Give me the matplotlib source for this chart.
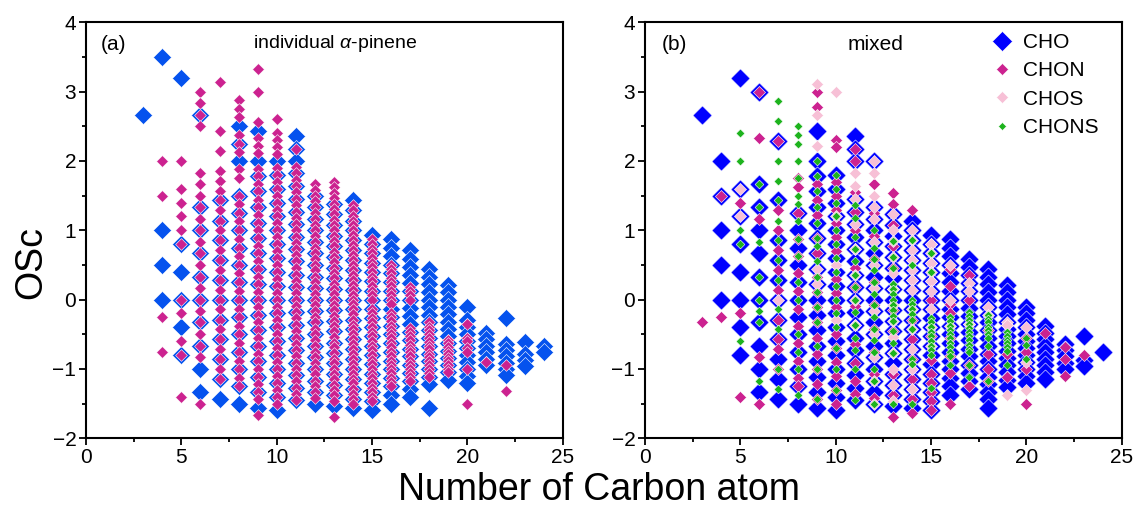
import matplotlib
matplotlib.use('Agg')
import matplotlib.pyplot as plt
from matplotlib.lines import Line2D
from matplotlib.ticker import MultipleLocator

plt.rcParams['font.family'] = ['Liberation Sans', 'DejaVu Sans']
plt.rcParams['mathtext.fontset'] = 'custom'
plt.rcParams['mathtext.it'] = 'Liberation Sans:italic'
plt.rcParams['mathtext.rm'] = 'Liberation Sans'

# carbon numbers, one column of OSc values per carbon number
carbon = list(range(3, 25))

# (a) individual alpha-pinene
cho_a = [
    [2.67],
    [3.5, 1.0, 0.5, 0.0],
    [3.2, 0.8, 0.4, 0.0, -0.4, -0.8],
    [2.67, 1.33, 1.0, 0.67, 0.33, 0.0, -0.33, -0.67, -1.0, -1.33],
    [1.43, 1.14, 0.86, 0.57, 0.29, 0.0, -0.29, -0.57, -0.86, -1.14, -1.43],
    [2.5, 2.25, 2.0, 1.5, 1.25, 1.0, 0.75, 0.5, 0.25, 0.0, -0.25, -0.5, -0.75, -1.0, -1.25, -1.5],
    [2.44, 2.0, 1.78, 1.56, 1.33, 1.11, 0.89, 0.67, 0.44, 0.22, 0.0, -0.22, -0.44, -0.67, -0.89, -1.11, -1.33, -1.56],
    [2.0, 1.8, 1.6, 1.4, 1.2, 1.0, 0.8, 0.6, 0.4, 0.2, 0.0, -0.2, -0.4, -0.6, -0.8, -1.0, -1.2, -1.4, -1.6],
    [2.36, 2.18, 2.0, 1.82, 1.64, 1.45, 1.27, 1.09, 0.91, 0.73, 0.55, 0.36, 0.18, 0.0, -0.18, -0.36, -0.55, -0.73, -0.91, -1.09, -1.27, -1.45],
    [1.5, 1.33, 1.17, 1.0, 0.83, 0.67, 0.5, 0.33, 0.17, 0.0, -0.17, -0.33, -0.5, -0.67, -0.83, -1.0, -1.17, -1.33, -1.5],
    [1.38, 1.23, 1.08, 0.92, 0.77, 0.62, 0.46, 0.31, 0.15, 0.0, -0.15, -0.31, -0.46, -0.62, -0.77, -0.92, -1.08, -1.23, -1.38, -1.54],
    [1.43, 1.29, 1.14, 1.0, 0.86, 0.71, 0.57, 0.43, 0.29, 0.14, 0.0, -0.14, -0.29, -0.43, -0.57, -0.71, -0.86, -1.0, -1.14, -1.29, -1.43, -1.57],
    [0.93, 0.8, 0.67, 0.53, 0.4, 0.27, 0.13, 0.0, -0.13, -0.27, -0.4, -0.53, -0.67, -0.8, -0.93, -1.07, -1.2, -1.33, -1.47, -1.6],
    [0.88, 0.75, 0.63, 0.5, 0.38, 0.25, 0.13, 0.0, -0.13, -0.25, -0.38, -0.5, -0.63, -0.75, -0.88, -1.0, -1.13, -1.25, -1.38, -1.5],
    [0.71, 0.59, 0.47, 0.35, 0.24, 0.12, 0.0, -0.12, -0.24, -0.35, -0.47, -0.59, -0.71, -0.82, -0.94, -1.06, -1.18, -1.29, -1.41],
    [0.44, 0.33, 0.22, 0.11, 0.0, -0.11, -0.22, -0.33, -0.44, -0.56, -0.67, -0.78, -0.89, -1.0, -1.11, -1.22, -1.56],
    [0.21, 0.11, 0.0, -0.11, -0.21, -0.32, -0.42, -0.53, -0.63, -0.74, -0.84, -0.95, -1.05, -1.16],
    [-0.1, -0.3, -0.4, -0.5, -0.6, -0.7, -0.8, -0.9, -1.0, -1.1, -1.2],
    [-0.48, -0.57, -0.67, -0.76, -0.86, -0.95],
    [-0.27, -0.64, -0.73, -0.82, -0.91, -1.0, -1.09],
    [-0.61, -0.78, -0.87, -0.96],
    [-0.67, -0.75],
]

chon_a = [
    [],
    [2.0, 1.5, -0.25, -0.75],
    [2.0, 1.6, 1.4, 1.2, 1.0, 0.8, 0.0, -0.2, -0.6, -0.8, -1.4],
    [3.0, 2.83, 2.67, 2.5, 1.83, 1.67, 1.5, 1.33, 1.17, 1.0, 0.83, 0.67, 0.5, 0.33, 0.17, 0.0, -0.17, -0.33, -0.5, -0.67, -0.83, -1.5],
    [3.14, 2.43, 2.14, 1.86, 1.71, 1.57, 1.43, 1.29, 1.14, 1.0, 0.86, 0.71, 0.57, 0.43, 0.29, 0.14, 0.0, -0.14, -0.29, -0.43, -0.57, -0.71, -0.86, -1.0, -1.14],
    [2.88, 2.75, 2.63, 2.38, 2.25, 2.13, 1.88, 1.75, 1.5, 1.38, 1.25, 1.13, 1.0, 0.88, 0.75, 0.63, 0.5, 0.38, 0.25, 0.13, 0.0, -0.13, -0.25, -0.38, -0.5, -0.63, -0.75, -0.88, -1.0, -1.13, -1.25],
    [3.33, 3.0, 2.56, 2.33, 2.22, 2.11, 1.89, 1.78, 1.67, 1.56, 1.44, 1.33, 1.22, 1.11, 1.0, 0.89, 0.78, 0.67, 0.56, 0.44, 0.33, 0.22, 0.11, 0.0, -0.11, -0.22, -0.33, -0.44, -0.56, -0.67, -0.78, -0.89, -1.0, -1.11, -1.22, -1.33, -1.44, -1.67],
    [2.6, 2.4, 2.3, 2.2, 2.1, 1.9, 1.8, 1.7, 1.6, 1.5, 1.4, 1.3, 1.2, 1.1, 1.0, 0.9, 0.8, 0.7, 0.6, 0.5, 0.4, 0.3, 0.2, 0.1, 0.0, -0.1, -0.2, -0.3, -0.4, -0.5, -0.6, -0.7, -0.8, -0.9, -1.0, -1.1, -1.2, -1.3, -1.4, -1.5],
    [2.18, 1.91, 1.82, 1.73, 1.64, 1.55, 1.45, 1.36, 1.27, 1.18, 1.09, 1.0, 0.91, 0.82, 0.73, 0.64, 0.55, 0.45, 0.36, 0.27, 0.18, 0.09, 0.0, -0.09, -0.18, -0.27, -0.36, -0.45, -0.55, -0.64, -0.73, -0.82, -0.91, -1.0, -1.09, -1.18, -1.27, -1.36, -1.45],
    [1.67, 1.58, 1.5, 1.42, 1.33, 1.25, 1.17, 1.08, 1.0, 0.92, 0.83, 0.75, 0.67, 0.58, 0.5, 0.42, 0.33, 0.25, 0.17, 0.08, 0.0, -0.08, -0.17, -0.25, -0.33, -0.42, -0.5, -0.58, -0.67, -0.75, -0.83, -0.92, -1.0, -1.08, -1.17, -1.25, -1.33, -1.42],
    [1.69, 1.62, 1.54, 1.46, 1.38, 1.31, 1.23, 1.15, 1.08, 1.0, 0.92, 0.85, 0.77, 0.69, 0.62, 0.54, 0.46, 0.38, 0.31, 0.23, 0.15, 0.08, 0.0, -0.08, -0.15, -0.23, -0.31, -0.38, -0.46, -0.54, -0.62, -0.69, -0.77, -0.85, -0.92, -1.0, -1.08, -1.15, -1.23, -1.31, -1.38, -1.46, -1.69],
    [1.36, 1.29, 1.21, 1.14, 1.07, 1.0, 0.93, 0.86, 0.79, 0.71, 0.64, 0.57, 0.5, 0.43, 0.36, 0.29, 0.21, 0.14, 0.07, 0.0, -0.07, -0.14, -0.21, -0.29, -0.36, -0.43, -0.5, -0.57, -0.64, -0.71, -0.79, -0.86, -0.93, -1.0, -1.07, -1.14, -1.21, -1.29, -1.36, -1.43, -1.5],
    [0.87, 0.8, 0.73, 0.67, 0.6, 0.53, 0.47, 0.4, 0.33, 0.27, 0.2, 0.13, 0.07, 0.0, -0.13, -0.2, -0.27, -0.33, -0.4, -0.47, -0.53, -0.6, -0.67, -0.73, -0.8, -0.87, -0.93, -1.0, -1.07, -1.13, -1.2, -1.27, -1.33, -1.4, -1.47],
    [0.5, 0.44, 0.38, 0.31, 0.25, 0.19, 0.13, 0.06, 0.0, -0.06, -0.19, -0.25, -0.31, -0.38, -0.44, -0.5, -0.56, -0.63, -0.69, -0.75, -0.81, -0.88, -0.94, -1.0, -1.06, -1.13, -1.19, -1.25],
    [0.18, 0.12, 0.06, 0.0, -0.41, -0.47, -0.53, -0.59, -0.65, -0.71, -0.76, -0.82, -0.88, -0.94, -1.0, -1.06, -1.12, -1.18],
    [-0.33, -0.39, -0.44, -0.5, -0.56, -0.61, -0.67, -0.72, -0.78, -0.83, -0.89, -0.94, -1.0, -1.06, -1.11],
    [-0.58, -0.63, -0.68, -0.74, -0.79, -0.84, -0.89, -0.95, -1.0, -1.05],
    [-0.35, -0.55, -0.6, -0.7, -0.75, -1.0, -1.5],
    [-0.9],
    [-0.95, -1.32],
    [],
    [],
]

# (b) mixed
cho_b = [
    [2.67],
    [2.0, 1.5, 1.0, 0.5, 0.0],
    [3.2, 1.6, 1.2, 0.8, 0.4, 0.0, -0.4, -0.8],
    [3.0, 1.67, 1.33, 1.0, 0.67, 0.33, 0.0, -0.33, -0.67, -1.0, -1.33],
    [2.29, 1.43, 0.86, 0.57, 0.29, 0.0, -0.29, -0.57, -0.86, -1.14, -1.43],
    [1.25, 1.0, 0.75, 0.5, 0.25, 0.0, -0.25, -0.5, -0.75, -1.0, -1.25, -1.5],
    [2.44, 2.0, 1.78, 1.56, 1.33, 1.11, 0.89, 0.67, 0.44, 0.22, 0.0, -0.22, -0.44, -0.67, -0.89, -1.11, -1.33, -1.56],
    [1.8, 1.6, 1.4, 1.2, 1.0, 0.8, 0.6, 0.4, 0.2, 0.0, -0.2, -0.4, -0.6, -0.8, -1.0, -1.2, -1.4, -1.6],
    [2.36, 2.18, 2.0, 1.45, 1.27, 1.09, 0.91, 0.73, 0.55, 0.36, 0.18, 0.0, -0.18, -0.36, -0.55, -0.73, -0.91, -1.09, -1.27, -1.45],
    [2.0, 1.33, 1.17, 1.0, 0.83, 0.67, 0.5, 0.33, 0.17, 0.0, -0.17, -0.33, -0.5, -0.67, -0.83, -1.0, -1.17, -1.33, -1.5],
    [1.23, 1.08, 0.92, 0.77, 0.62, 0.46, 0.31, 0.15, 0.0, -0.15, -0.31, -0.46, -0.62, -0.77, -0.92, -1.08, -1.23, -1.38, -1.54],
    [1.14, 1.0, 0.86, 0.71, 0.57, 0.43, 0.29, 0.14, 0.0, -0.14, -0.29, -0.43, -0.57, -0.71, -0.86, -1.0, -1.14, -1.29, -1.43, -1.57],
    [0.93, 0.8, 0.67, 0.53, 0.4, 0.27, 0.13, 0.0, -0.13, -0.27, -0.4, -0.53, -0.67, -0.8, -0.93, -1.07, -1.2, -1.33, -1.47, -1.6],
    [0.88, 0.75, 0.63, 0.5, 0.38, 0.25, 0.13, 0.0, -0.13, -0.25, -0.38, -0.5, -0.63, -0.75, -0.88, -1.0, -1.13, -1.25, -1.38],
    [0.59, 0.47, 0.35, 0.24, 0.12, 0.0, -0.12, -0.24, -0.35, -0.47, -0.59, -0.71, -0.82, -0.94, -1.06, -1.18, -1.29],
    [0.44, 0.33, 0.22, 0.11, 0.0, -0.11, -0.22, -0.33, -0.44, -0.56, -0.67, -0.78, -0.89, -1.0, -1.11, -1.22, -1.33, -1.44, -1.56],
    [0.21, 0.11, 0.0, -0.11, -0.21, -0.32, -0.42, -0.53, -0.63, -0.74, -0.84, -0.95, -1.05, -1.16, -1.26],
    [-0.1, -0.2, -0.3, -0.4, -0.5, -0.6, -0.7, -0.8, -0.9, -1.0, -1.1, -1.2],
    [-0.38, -0.48, -0.57, -0.67, -0.76, -0.86, -0.95, -1.05, -1.14],
    [-0.64, -0.73, -0.82, -0.91, -1.0],
    [-0.52, -0.87, -0.96],
    [-0.75],
]

chon_b = [
    [-0.33],
    [1.5, -0.25],
    [1.4, -0.2, -1.4],
    [3.0, 2.33, 1.17, -0.83, -1.5],
    [2.29, 1.29, 1.0, 0.71, 0.43, 0.14, -0.29, -0.57, -0.71, -1.0],
    [1.75, 1.63, 1.25, 0.88, 0.63, 0.38, 0.13, -0.13, -0.38, -0.63, -0.88, -1.13, -1.25],
    [3.0, 2.78, 1.67, 1.44, 1.22, 0.89, 0.67, 0.33, 0.11, -0.11, -0.33, -0.56, -0.78, -1.0, -1.22, -1.44],
    [2.3, 2.2, 1.7, 1.5, 1.3, 1.1, 0.9, 0.7, 0.5, 0.3, 0.1, -0.1, -0.3, -0.5, -0.7, -0.9, -1.1, -1.3, -1.5],
    [2.18, 2.0, 1.55, 1.27, 1.0, 0.73, 0.45, 0.18, -0.09, -0.36, -0.64, -0.91, -1.18, -1.36],
    [1.67, 1.25, 0.92, 0.58, 0.25, -0.08, -0.42, -0.75, -1.08, -1.42],
    [1.54, 1.38, 1.08, 0.77, 0.46, 0.15, -0.15, -0.46, -0.77, -1.08, -1.38, -1.69],
    [1.29, 0.57, 0.29, -0.29, -0.57, -0.86, -1.0, -1.14, -1.29, -1.43, -1.64],
    [0.8, 0.53, 0.27, 0.0, -0.53, -0.87, -1.07, -1.2, -1.33, -1.47, -1.6],
    [0.44, 0.19, -0.06, -0.19, -0.56, -0.81, -1.06, -1.5],
    [0.35, 0.0, -0.35, -0.94, -1.24],
    [-0.44, -0.78, -1.0, -1.17],
    [-0.37, -0.79, -1.11],
    [-0.55, -0.75, -1.0, -1.5],
    [-0.48],
    [-0.68, -0.86, -1.1],
    [-0.8],
    [],
]

chos_b = [
    [], [], [1.6, 1.2], [], [0.0], [],
    [3.11, 2.67, 2.22, 0.44, 0.22],
    [3.0, 1.2, 0.5, -0.3],
    [1.82, 1.64, 1.45, 1.09, 0.73, 0.36, 0.0, -0.36],
    [2.0, 1.83, 1.5, 1.33, 1.17, 0.83, 0.5, 0.17, -0.17, -0.5, -0.83, -1.17, -1.5],
    [1.23, 1.0, 0.85, 0.62, 0.38, 0.15, -0.08, -0.31, -0.54, -0.77, -1.0, -1.23, -1.46],
    [1.0, 0.86, 0.71, 0.57, 0.43, 0.29, 0.14, -0.14, -0.43, -0.71, -1.0, -1.29],
    [0.8, 0.67, 0.53, 0.4, 0.27, 0.13, -0.13, -0.4, -0.67],
    [0.5, 0.0, -0.38],
    [0.24, 0.12, -0.35],
    [-0.11, -0.22],
    [-0.32, -0.37, -1.37],
    [-0.4, -0.9, -1.3],
    [], [], [], [],
]

chons_b = [
    [], [],
    [2.4, 2.0, 1.0, 0.8, -0.6],
    [1.67, 1.33, 0.83, 0.33, 0.0, -0.17, -0.33, -1.17],
    [2.86, 2.57, 2.0, 1.71, 1.43, 1.14, 0.86, 0.57, 0.29, -0.14, -0.43, -1.0, -1.29],
    [2.5, 2.38, 2.25, 2.0, 1.75, 1.5, 1.38, 1.13, 0.88, 0.63, 0.25, 0.0, -0.5, -0.75, -1.0, -1.38],
    [2.0, 1.78, 1.56, 1.33, 1.11, 0.89, 0.78, 0.56, 0.33, 0.11, -0.11, -0.33, -0.67, -1.0, -1.44],
    [1.8, 1.6, 1.4, 1.2, 1.0, 0.8, 0.6, 0.4, 0.2, 0.0, -0.2, -0.4, -0.7, -1.0, -1.3],
    [1.36, 1.18, 0.91, 0.73, 0.55, 0.36, 0.18, 0.0, -0.18, -0.36, -0.55, -0.73, -1.0, -1.45],
    [1.0, 0.75, 0.58, 0.42, 0.25, 0.08, -0.08, -0.25, -0.42, -0.58, -0.75, -1.0, -1.17, -1.5],
    [0.85, 0.62, 0.46, 0.23, 0.15, 0.08, 0.0, -0.08, -0.15, -0.23, -0.31, -0.46, -0.62, -0.77, -1.5],
    [0.86, 0.5, 0.0, -0.07, -0.14, -0.21, -0.29, -0.43, -0.86, -0.93, -1.5],
    [0.67, 0.4, -0.27, -0.33, -0.4, -0.47, -0.53, -0.6, -0.67, -0.73, -0.8, -1.27],
    [-0.25, -0.31, -0.38, -0.44, -0.5, -0.56, -0.63, -0.69, -0.75, -0.81, -0.94],
    [-0.18, -0.24, -0.29, -0.35, -0.41, -0.47, -0.53, -0.59, -0.65, -0.71, -0.76, -0.94, -1.12],
    [-0.22, -0.28, -0.33, -0.39, -0.44, -0.5, -0.56, -0.67, -1.17],
    [-0.47, -0.53, -0.58, -0.63, -0.68, -0.74, -0.95],
    [-0.55, -0.65, -0.85],
    [], [], [], [],
]

labels = ['CHO', 'CHON', 'CHOS', 'CHONS']
blue_a = '#0552EE'
blue_b = '#0000FF'
magenta = '#CC2290'
pink = '#F7C0D6'
green = '#1DB31D'


def flatten(cols):
    xs = [c for c, col in zip(carbon, cols) for _ in col]
    ys = [v for col in cols for v in col]
    return xs, ys


def draw(ax, cols, color, size, z):
    xs, ys = flatten(cols)
    ax.scatter(xs, ys, s=size, marker='D', c=color, edgecolors='white',
               linewidths=0.4, zorder=z)


def style(ax):
    ax.set_xlim(0, 25)
    ax.set_ylim(-2, 4)
    ax.xaxis.set_major_locator(MultipleLocator(5))
    ax.xaxis.set_minor_locator(MultipleLocator(2.5))
    ax.yaxis.set_major_locator(MultipleLocator(1))
    ax.yaxis.set_minor_locator(MultipleLocator(0.5))
    ax.tick_params(which='both', direction='out', top=False, right=False,
                   labelsize=15, width=1.3, pad=2)
    ax.tick_params(which='major', length=5)
    ax.tick_params(which='minor', length=3)
    for sp in ax.spines.values():
        sp.set_linewidth(1.5)


fig = plt.figure(figsize=(11.41, 5.09), dpi=100)
ax1 = fig.add_axes([0.0754, 0.1391, 0.4178, 0.8169])
ax2 = fig.add_axes([0.5653, 0.1391, 0.4178, 0.8169])

# panel (a)
draw(ax1, cho_a, blue_a, 85, 2)
draw(ax1, chon_a, magenta, 36, 3)
style(ax1)
ax1.text(0.03, 0.946, '(a)', transform=ax1.transAxes, fontsize=15, va='center')
ax1.text(0.35, 0.95, r'individual $\it{\alpha}$-pinene', transform=ax1.transAxes,
         fontsize=14, va='center')

# panel (b)
draw(ax2, cho_b, blue_b, 95, 2)
draw(ax2, chon_b, magenta, 38, 3)
draw(ax2, chos_b, pink, 38, 4)
draw(ax2, chons_b, green, 20, 5)
style(ax2)
ax2.text(0.036, 0.946, '(b)', transform=ax2.transAxes, fontsize=15, va='center')
ax2.text(0.424, 0.946, 'mixed', transform=ax2.transAxes, fontsize=15, va='center')

handles = [
    Line2D([], [], ls='none', marker='D', color=blue_b, mec='white', mew=0.4, ms=9.7),
    Line2D([], [], ls='none', marker='D', color=magenta, mec='white', mew=0.4, ms=6.2),
    Line2D([], [], ls='none', marker='D', color=pink, mec='white', mew=0.4, ms=6.2),
    Line2D([], [], ls='none', marker='D', color=green, mec='white', mew=0.4, ms=4.5),
]
ax2.legend(handles, labels, loc='upper left', bbox_to_anchor=(0.70, 1.005),
           frameon=False, fontsize=15, handlelength=1.0, handletextpad=0.55,
           labelspacing=0.45, borderaxespad=0.2)

fig.text(0.027, 0.485, 'OSc', rotation=90, fontsize=27, ha='center', va='center')
fig.text(0.525, 0.018, 'Number of Carbon atom', fontsize=27, ha='center', va='baseline')

fig.savefig('out.png', dpi=100)
